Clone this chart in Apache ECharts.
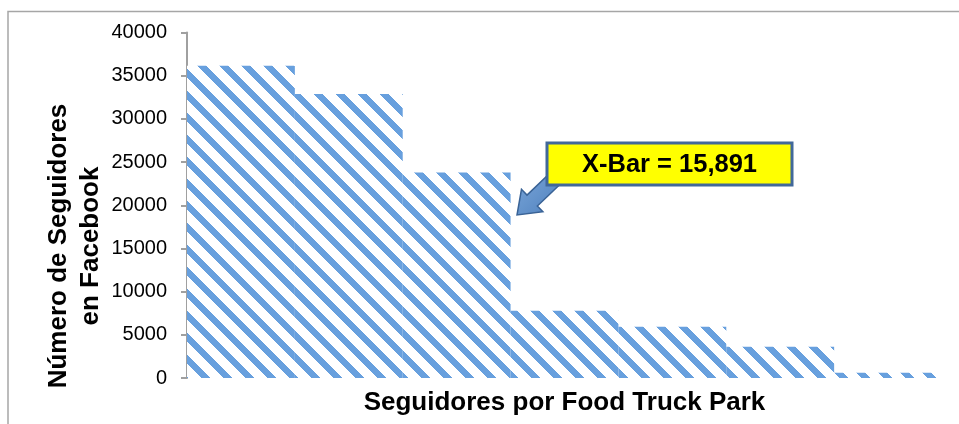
<!DOCTYPE html>
<html>
<head>
<meta charset="utf-8">
<script src="https://cdn.jsdelivr.net/npm/echarts@6/dist/echarts.min.js"></script>
<style>
  html, body { margin: 0; padding: 0; background: #fff; }
  #main { width: 959px; height: 424px; }
</style>
</head>
<body>
<div id="main"></div>
<script>
// datos
var parques = ['Park 1', 'Park 2', 'Park 3', 'Park 4', 'Park 5', 'Park 6', 'Park 7'];
var seguidores = [36150, 32870, 23800, 7790, 5940, 3620, 610];
var ejeY = { min: 0, max: 40000, interval: 5000 };
var tituloX = 'Seguidores por Food Truck Park';
var tituloY = 'Número de Seguidores\nen Facebook';
var etiquetaMedia = 'X-Bar = 15,891';

var myChart = echarts.init(document.getElementById('main'));

// rayas diagonales (\) pixel a pixel para que el mosaico no tenga cortes
function rayas(r, g, b) {
  var s = 22, w = 9;
  var c = document.createElement('canvas');
  c.width = s;
  c.height = s;
  var ctx = c.getContext('2d');
  var img = ctx.createImageData(s, s);
  for (let y = 0; y < s; y++) {
    for (let x = 0; x < s; x++) {
      let d = ((x - y) % s + s) % s;
      let i = (y * s + x) * 4;
      if (d < w) {
        img.data[i] = r; img.data[i + 1] = g; img.data[i + 2] = b; img.data[i + 3] = 255;
      } else {
        img.data[i] = 255; img.data[i + 1] = 255; img.data[i + 2] = 255; img.data[i + 3] = 255;
      }
    }
  }
  ctx.putImageData(img, 0, 0);
  return c;
}

// flecha de bloque entre dos puntos
function flecha(cola, punta, anchoCuerpo, anchoCabeza, largoCabeza) {
  let dx = punta[0] - cola[0], dy = punta[1] - cola[1];
  let len = Math.sqrt(dx * dx + dy * dy);
  let ux = dx / len, uy = dy / len;
  let nx = -uy, ny = ux;
  let hx = cola[0] + ux * (len - largoCabeza), hy = cola[1] + uy * (len - largoCabeza);
  let a = anchoCuerpo / 2, b = anchoCabeza / 2;
  return [
    [cola[0] + nx * a, cola[1] + ny * a],
    [hx + nx * a, hy + ny * a],
    [hx + nx * b, hy + ny * b],
    punta,
    [hx - nx * b, hy - ny * b],
    [hx - nx * a, hy - ny * a],
    [cola[0] - nx * a, cola[1] - ny * a]
  ];
}

const option = {
  animation: false,
  backgroundColor: '#fff',
  grid: { left: 187, right: 17, top: 32.5, bottom: 46 },
  xAxis: {
    type: 'category',
    data: parques,
    axisLine: { show: false },
    axisTick: { show: false },
    axisLabel: { show: false },
    name: tituloX,
    nameLocation: 'middle',
    nameGap: 12,
    nameTextStyle: {
      fontFamily: 'Liberation Sans',
      fontSize: 26,
      fontWeight: 'bold',
      color: '#000'
    }
  },
  yAxis: {
    type: 'value',
    min: ejeY.min,
    max: ejeY.max,
    interval: ejeY.interval,
    splitLine: { show: false },
    axisLine: { show: true, lineStyle: { color: '#A0A0A0', width: 2 } },
    axisTick: { show: true, length: 6, lineStyle: { color: '#A0A0A0', width: 2 } },
    axisLabel: {
      margin: 20,
      fontFamily: 'Liberation Sans',
      fontSize: 20,
      color: '#000',
      formatter: function (v) { return String(v); }
    }
  },
  series: [{
    type: 'bar',
    data: seguidores,
    barCategoryGap: '0%',
    barGap: '0%',
    itemStyle: {
      color: { image: rayas(104, 160, 222), repeat: 'repeat' }
    }
  }],
  graphic: [
    {
      type: 'rect',
      silent: true,
      shape: { x: 8, y: 11.5, width: 980, height: 440 },
      style: { fill: 'none', stroke: '#A6A6A6', lineWidth: 1.5 }
    },
    {
      type: 'text',
      x: 75,
      y: 246,
      rotation: Math.PI / 2,
      style: {
        text: tituloY,
        font: 'bold 26px "Liberation Sans"',
        fill: '#000',
        align: 'center',
        verticalAlign: 'middle',
        lineHeight: 32
      }
    },
    {
      type: 'polygon',
      shape: { points: flecha([562, 172], [517, 215], 15, 31, 21) },
      style: {
        fill: {
          type: 'linear', x: 0, y: 0, x2: 1, y2: 1,
          colorStops: [{ offset: 0, color: '#7EA9DB' }, { offset: 1, color: '#4A7DBB' }]
        },
        stroke: '#3A6396',
        lineWidth: 1.5
      }
    },
    {
      type: 'rect',
      shape: { x: 547, y: 143, width: 245, height: 42 },
      style: { fill: '#FFFF00', stroke: '#41689A', lineWidth: 3 }
    },
    {
      type: 'text',
      x: 669.5,
      y: 164.5,
      style: {
        text: etiquetaMedia,
        font: 'bold 25.5px "Liberation Sans"',
        fill: '#000',
        align: 'center',
        verticalAlign: 'middle'
      }
    }
  ]
};
myChart.setOption(option);
</script>
</body>
</html>
